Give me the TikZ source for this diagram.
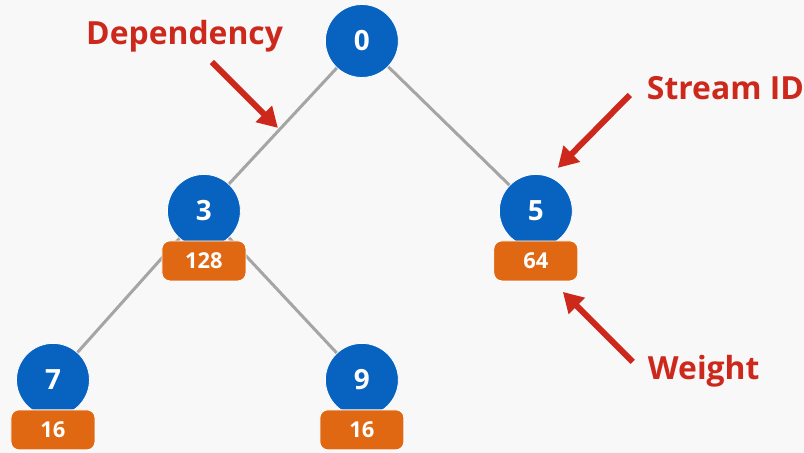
\documentclass[tikz,border=0pt]{standalone}
\usepackage{fontspec}
\setmainfont{Open Sans}
\usetikzlibrary{positioning,arrows.meta}
\definecolor{streamblue}{RGB}{8,98,192}
\definecolor{weightorange}{RGB}{224,104,18}
\definecolor{labelred}{RGB}{204,40,28}
\definecolor{edgegray}{RGB}{165,165,165}
\definecolor{bggray}{RGB}{248,248,248}

\begin{document}
\begin{tikzpicture}[x=1bp,y=-1bp,>={Triangle[length=20bp,width=22bp]},on grid,
    stream node/.style={circle,fill=streamblue,draw=white,line width=0.8bp,minimum size=73bp,inner sep=0pt,text=white,font=\bfseries\fontsize{28}{28}\selectfont},
    weight node/.style={rectangle,rounded corners=8bp,fill=weightorange,draw=white,line width=0.8bp,minimum width=84bp,minimum height=40bp,inner sep=0pt,text=white,font=\bfseries\fontsize{22}{22}\selectfont},
    label node/.style={inner sep=0pt,anchor=base west,text=labelred,font=\bfseries\fontsize{32}{32}\selectfont},
    pointer/.style={->,draw=labelred,line width=6bp}]

    \fill[bggray] (0,0) rectangle (804,453);

    % streams
    \node (0) [stream node] at (362,41) {0};
    \node (3) [stream node, below left=170bp and 158bp of 0] {3};
    \node (5) [stream node, below right=170bp and 174bp of 0] {5};
    \node (7) [stream node, below left=169bp and 151bp of 3] {7};
    \node (9) [stream node, below right=169bp and 158bp of 3] {9};

    \path[draw=edgegray,line width=3bp]
    (0) edge (3)
    (0) edge (5)
    (3) edge (7)
    (3) edge (9)
    ;

    % weights
    \node (w3) [weight node, below=50bp of 3] {128};
    \node (w5) [weight node, below=50bp of 5] {64};
    \node (w7) [weight node, below=50bp of 7] {16};
    \node (w9) [weight node, below=50bp of 9] {16};

    % callouts
    \node (dep) [label node] at (86,45) {Dependency};
    \node (sid) [label node] at (647,100) {Stream ID};
    \node (wgt) [label node] at (648,380) {Weight};

    \coordinate (dep from) at (212,62);
    \coordinate (dep to) at (278,128);
    \coordinate (sid from) at (630,95);
    \coordinate (sid to) at (558,168);
    \coordinate (wgt from) at (633,362);
    \coordinate (wgt to) at (563,292);

    \draw[pointer] (dep from) -- (dep to);
    \draw[pointer] (sid from) -- (sid to);
    \draw[pointer] (wgt from) -- (wgt to);
\end{tikzpicture}
\end{document}
